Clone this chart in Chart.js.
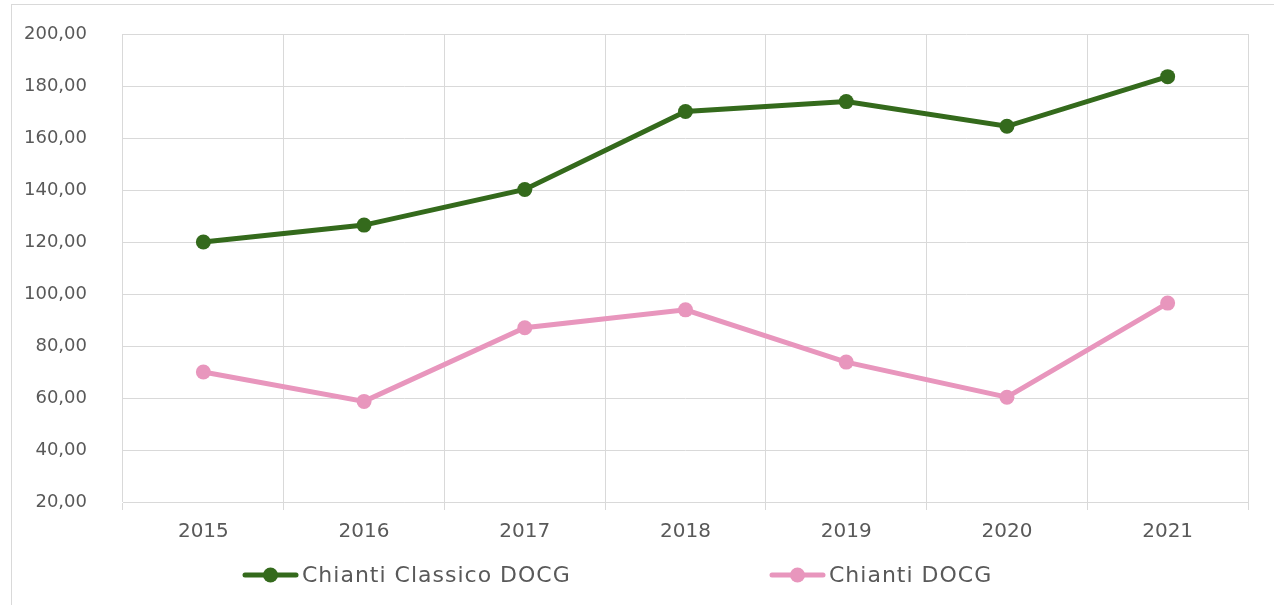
<!DOCTYPE html>
<html>
<head>
<meta charset="utf-8">
<script src="https://cdn.jsdelivr.net/npm/chart.js@4/dist/chart.umd.min.js"></script>
<style>
  html, body { margin: 0; padding: 0; background: #fff; overflow: hidden; width: 1274px; height: 605px; }
  #frame { position: absolute; left: 11px; top: 4px; width: 1400px; height: 800px; border: 1px solid #d9d9d9; box-sizing: border-box; }
  #wrap { position: absolute; left: 0; top: 0; width: 1274px; height: 605px; }
</style>
</head>
<body>
<div id="frame"></div>
<div id="wrap"><canvas id="c" width="1274" height="605"></canvas></div>
<script>
const years = ["2015", "2016", "2017", "2018", "2019", "2020", "2021"];
const chiantiClassico = [120.0, 126.5, 140.2, 170.2, 174.0, 164.5, 183.6];
const chiantiDocg = [70.0, 58.7, 87.0, 93.9, 73.8, 60.3, 96.5];
const seriesNames = ["Chianti Classico DOCG", "Chianti DOCG"];
const seriesColors = ["#346a1c", "#e896bd"];
const yMin = 20, yMax = 200, yStep = 20;

// Excel-style legend: line with marker, then label; items spread across the bottom
const excelLegend = {
  id: 'excelLegend',
  afterDraw(chart, args, opts) {
    const ctx = chart.ctx;
    const y = opts.y;
    chart.data.datasets.forEach((ds, i) => {
      const x0 = opts.starts[i];
      ctx.save();
      ctx.strokeStyle = ds.borderColor;
      ctx.lineWidth = 5;
      ctx.lineCap = 'round';
      ctx.beginPath();
      ctx.moveTo(x0 + 2, y);
      ctx.lineTo(x0 + opts.lineLen - 2, y);
      ctx.stroke();
      ctx.fillStyle = ds.borderColor;
      ctx.beginPath();
      ctx.arc(x0 + opts.lineLen / 2, y, 7.5, 0, Math.PI * 2);
      ctx.fill();
      ctx.fillStyle = '#595959';
      ctx.font = opts.font;
      if ('letterSpacing' in ctx) ctx.letterSpacing = '1px';
      ctx.textBaseline = 'middle';
      ctx.textAlign = 'left';
      ctx.fillText(ds.label, x0 + opts.lineLen + 4, y + 1);
      ctx.restore();
    });
  }
};

new Chart(document.getElementById('c'), {
  type: 'line',
  data: {
    labels: years,
    datasets: [
      { label: seriesNames[0], data: chiantiClassico, borderColor: seriesColors[0], backgroundColor: seriesColors[0],
        borderWidth: 5, pointRadius: 7.5, pointBackgroundColor: seriesColors[0], pointBorderColor: seriesColors[0], pointBorderWidth: 0, tension: 0 },
      { label: seriesNames[1], data: chiantiDocg, borderColor: seriesColors[1], backgroundColor: seriesColors[1],
        borderWidth: 5, pointRadius: 7.5, pointBackgroundColor: seriesColors[1], pointBorderColor: seriesColors[1], pointBorderWidth: 0, tension: 0 }
    ]
  },
  options: {
    responsive: false,
    animation: false,
    layout: { padding: { left: 0, right: 26, top: 34, bottom: 0 } },
    plugins: {
      tooltip: { enabled: false },
      title: { display: false },
      legend: { display: false },
      excelLegend: { y: 575, starts: [243, 770], lineLen: 55, font: '22px "DejaVu Sans"' }
    },
    scales: {
      x: {
        offset: true,
        afterFit(scale) { scale.height = 103; },
        grid: { offset: true, color: '#d9d9d9', lineWidth: 1, tickLength: 8, drawTicks: true },
        border: { display: true, color: '#d9d9d9' },
        ticks: { color: '#595959', font: { family: 'DejaVu Sans', size: 20 }, padding: 10, maxRotation: 0 }
      },
      y: {
        min: yMin, max: yMax,
        afterFit(scale) { scale.width = 123; scale.paddingTop = 0; scale.paddingBottom = 0; },
        grid: { color: '#d9d9d9', lineWidth: 1, drawTicks: false },
        border: { display: false },
        ticks: {
          stepSize: yStep, padding: 36, color: '#595959',
          font: { family: 'DejaVu Sans', size: 18 },
          callback(v) { return v.toFixed(2).replace('.', ','); }
        }
      }
    }
  },
  plugins: [excelLegend]
});
</script>
</body>
</html>
